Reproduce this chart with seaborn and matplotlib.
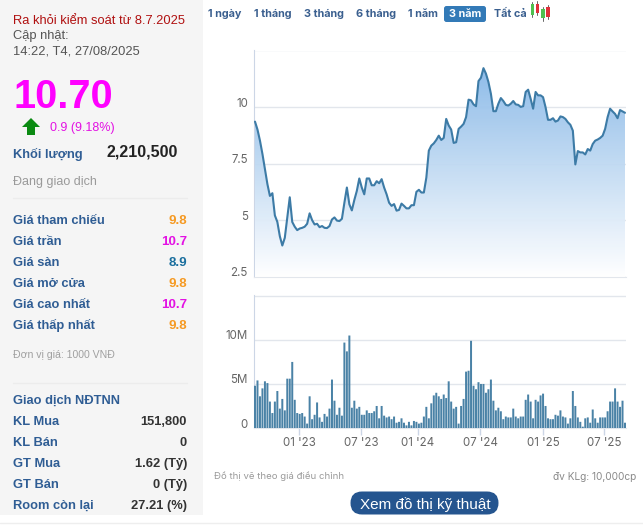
"""Stock quote panel: price area chart and weekly volume bars with the side info column."""

import matplotlib
matplotlib.use("Agg")
import matplotlib.pyplot as plt
import numpy as np
import pandas as pd
import seaborn as sns
from matplotlib.colors import LinearSegmentedColormap
from matplotlib.patches import FancyBboxPatch, Polygon, Rectangle
from matplotlib.transforms import ScaledTranslation

# price, thousand VND, one value per week
price = [
    9.36, 9.01, 8.52, 7.93, 7.26, 6.60, 6.08, 6.20, 5.22, 4.93, 4.30, 3.89, 4.23, 5.12, 6.02,
    4.93, 4.72, 4.57, 4.64, 4.67, 4.72, 4.85, 5.31, 5.01, 4.82, 4.85, 4.70, 4.75, 4.67, 4.66,
    4.75, 5.04, 5.13, 4.99, 4.97, 5.07, 5.78, 6.45, 5.71, 5.44, 5.90, 6.30, 6.85, 6.45, 6.15,
    6.85, 6.85, 6.55, 6.55, 6.73, 6.64, 6.82, 6.45, 6.15, 5.78, 5.64, 5.72, 5.43, 5.46, 5.74,
    5.64, 5.53, 5.53, 5.67, 5.67, 6.26, 6.35, 6.23, 6.23, 6.89, 8.08,
    8.30, 8.40, 8.55, 8.74, 8.55, 8.64, 9.48, 9.19, 9.01, 8.42, 8.45, 9.04, 9.14, 9.26, 9.56,
    10.33, 10.30, 10.12, 10.04, 11.15, 11.30, 11.72, 11.48, 11.11, 10.59, 9.82, 9.82, 10.15,
    10.40, 10.27, 10.10, 10.07, 10.15, 10.27, 10.12, 10.10, 10.01, 10.04, 10.67, 10.77, 10.37,
    9.93, 10.67, 10.52, 10.52, 10.44, 10.00, 9.44, 9.44, 9.51, 9.36, 9.41, 9.59, 9.56, 9.48,
    9.33, 9.22, 8.96, 7.47, 8.06, 8.00, 8.00, 7.91, 8.15, 8.08, 8.37, 8.52, 8.57, 8.64, 8.74,
    9.04, 9.56, 9.93, 9.81, 9.70, 9.51, 9.87, 9.81, 9.75,
]

# volume, millions of shares
volume = [
    4.8, 5.4, 3.6, 4.5, 5.3, 5.1, 3.0, 1.7, 3.0, 4.2, 2.2, 3.3, 2.0, 5.6, 5.6, 7.5, 3.2, 1.7,
    1.6, 1.7, 1.3, 0.5, 3.6, 1.0, 1.5, 2.9, 1.2, 0.7, 1.6, 1.3, 2.2, 5.5, 3.1, 1.5, 2.3, 1.4,
    9.7, 8.7, 10.5, 2.3, 3.1, 2.2, 2.4, 1.5, 1.5, 2.0, 1.7, 1.7, 1.9, 2.5, 1.1, 2.5, 1.4, 1.2,
    1.3, 1.0, 1.3, 0.6, 0.7, 1.1, 0.6, 0.3, 0.7, 0.3, 0.8, 0.7, 0.5, 0.6, 1.3, 2.4, 1.1,
    2.8, 3.7, 4.0, 3.6, 3.3, 3.8, 3.4, 5.3, 3.0, 2.2, 2.4, 0.5, 2.5, 3.3, 6.4, 6.5, 9.9, 4.8,
    4.4, 5.2, 5.0, 5.0, 4.0, 4.4, 5.5, 3.1, 2.0, 2.3, 1.9, 1.0, 1.3, 1.2, 1.2, 2.2, 1.3, 1.1,
    1.3, 1.3, 3.2, 3.8, 3.0, 1.1, 3.2, 3.0, 3.7, 3.9, 2.5, 1.1, 1.0, 1.0, 1.5, 1.4, 2.0, 1.3,
    1.2, 0.5, 1.1, 4.2, 2.5, 1.2, 0.7, 0.15, 1.1, 1.2, 0.6, 2.1, 1.1, 0.6, 1.2, 1.2, 1.2, 1.9,
    3.0, 3.0, 4.5, 3.0, 2.4, 3.1, 0.6,
]

date_ticks = [17.8, 42.8, 65.6, 90.6, 116, 140.6]
date_labels = ["01 '23", "07 '23", "01 '24", "07 '24", "01 '25", "07 '25"]
price_ticks = [2.5, 5, 7.5, 10, 12.5]
price_labels = ["2.5", "5", "7.5", "10", ""]
volume_ticks = [0, 5, 10, 15]
volume_labels = ["0", "5M", "10M", ""]

nav_items = [("1 ngày", 208), ("1 tháng", 254), ("3 tháng", 304), ("6 tháng", 356), ("1 năm", 408), ("Tất cả", 494)]

ORANGE = "#f59a23"
MAGENTA = "#e312e3"
TEAL = "#1b6f9e"
price_rows = [
    ("Giá tham chiếu", "9.8", ORANGE, 219),
    ("Giá trần", "10.7", MAGENTA, 240),
    ("Giá sàn", "8.9", TEAL, 261),
    ("Giá mở cửa", "9.8", ORANGE, 282),
    ("Giá cao nhất", "10.7", MAGENTA, 303),
    ("Giá thấp nhất", "9.8", ORANGE, 324),
]
foreign_rows = [
    ("KL Mua", "151,800", 420),
    ("KL Bán", "0", 441),
    ("GT Mua", "1.62 (Tỷ)", 462),
    ("GT Bán", "0 (Tỷ)", 483),
    ("Room còn lại", "27.21 (%)", 504),
]

W, H = 643, 528
LABEL_BLUE = "#2f5d94"
LINE_BLUE = "#3d7ba6"
BAR_BLUE = "#4a82a6"
GRID = "#e2e6ec"
ARIAL = "Liberation Sans"
INTER = "Inter"


def px_axes(fig, left, top, right, bottom):
    """Axes placed by pixel box, y measured from the top of the image."""
    return fig.add_axes([left / W, 1 - bottom / H, (right - left) / W, (bottom - top) / H])


def style_axes(ax, ticks, labels):
    sns.despine(ax=ax, top=True, right=True, bottom=False, left=False)
    ax.spines["left"].set_color("#ccd6e6")
    ax.spines["bottom"].set_color(GRID)
    ax.set_yticks(ticks)
    ax.set_yticklabels(labels, family=INTER, fontsize=8.3, color="#666666", va="bottom")
    ax.tick_params(axis="y", length=0, pad=4)
    # labels sit just above their grid line
    shift = ScaledTranslation(0, -2.5 / 100, fig.dpi_scale_trans)
    for lab in ax.get_yticklabels():
        lab.set_transform(lab.get_transform() + shift)
    ax.grid(axis="y", color=GRID, linewidth=1)
    ax.set_axisbelow(True)
    ax.set_xlabel("")
    ax.set_ylabel("")


sns.set_style("white")
plt.rcParams["font.family"] = [ARIAL, "DejaVu Sans"]

weeks = np.arange(len(price))
df = pd.DataFrame({"week": weeks, "price": price, "volume": volume})

fig = plt.figure(figsize=(W / 100, H / 100), dpi=100, facecolor="white")

# page layer in pixel coordinates
page = fig.add_axes([0, 0, 1, 1])
page.set_xlim(0, W)
page.set_ylim(H, 0)
page.axis("off")
page.add_patch(Rectangle((0, 0), 203, 515, facecolor="#f5f5f5", edgecolor="none"))
page.plot([0, W], [523, 523], color="#eeeeee", lw=1)
page.plot([13, 187], [198, 198], color="#ececec", lw=1)
page.plot([13, 187], [383, 383], color="#ececec", lw=1)


def txt(x, y, s, size, color, weight="normal", ha="left", family=ARIAL):
    # y is the middle of the capitals, baseline anchoring keeps accents from moving the text
    page.text(x, y + 0.5 * size, s, fontsize=size, color=color, fontweight=weight, ha=ha, va="baseline", family=family)


txt(13, 19.5, "Ra khỏi kiểm soát từ 8.7.2025", 9.3, "#b01010")
txt(13, 34, "Cập nhật:", 9.3, "#555555")
txt(13, 49.5, "14:22, T4, 27/08/2025", 9.3, "#555555")
txt(13, 94, "10.70", 28.5, "#ff00ff", "bold")
page.add_patch(Polygon([(31, 118), (40, 127), (35, 127), (35, 135), (27, 135), (27, 127), (22, 127)],
                       closed=True, facecolor="#0b8a12", edgecolor="none"))
txt(50, 127, "0.9 (9.18%)", 9, MAGENTA)
txt(13, 153.5, "Khối lượng", 9.3, LABEL_BLUE, "bold")
txt(178, 151, "2,210,500", 11.5, "#222222", "bold", ha="right")
txt(13, 180.5, "Đang giao dịch", 9, "#9a9a9a")

for label, value, color, y in price_rows:
    txt(13, y, label, 9.3, LABEL_BLUE, "bold")
    txt(187, y, value, 9.6, color, "bold", ha="right")

txt(13, 354, "Đơn vị giá: 1000 VNĐ", 7.6, "#a0a0a0")
txt(13, 399.5, "Giao dịch NĐTNN", 9.3, LABEL_BLUE, "bold")
for label, value, y in foreign_rows:
    txt(13, y + 0.5, label, 9.3, LABEL_BLUE, "bold")
    txt(187, y + 0.5, value, 9.3, "#333333", "bold", ha="right")

# range selector
for label, x in nav_items:
    txt(x, 13, label, 7.8, "#3a5f8f", "bold", family=INTER)
page.add_patch(FancyBboxPatch((444, 6), 42, 16, boxstyle="round,pad=0,rounding_size=2.5",
                              mutation_aspect=1, facecolor="#337ab7", edgecolor="none"))
txt(465, 13, "3 năm", 7.8, "white", "bold", ha="center", family=INTER)

# small candlestick icon
for x, y0, y1, wick0, wick1, color in [
    (530.5, 4, 15, 2, 17, "#4fc04f"), (535.5, 4, 13, 1, 15, "#e0303a"),
    (541, 9, 18, 7, 20.5, "#4fc04f"), (546, 7, 17, 5, 19, "#e0303a"),
]:
    page.plot([x + 1.9, x + 1.9], [wick0, wick1], color="#666666", lw=0.7, zorder=2)
    page.add_patch(Rectangle((x, y0), 3.8, y1 - y0, facecolor=color, edgecolor="none", zorder=3))

txt(214, 476, "Đồ thị vẽ theo giá điều chỉnh", 6.9, "#9a9a9a", family=INTER)
txt(636, 476, "đv KLg: 10,000cp", 7.3, "#8a8a8a", ha="right", family=INTER)
page.add_patch(FancyBboxPatch((350.5, 491.5), 148, 23, boxstyle="round,pad=0,rounding_size=11.5",
                              facecolor="#25558f", edgecolor="none", mutation_aspect=1))
txt(425, 503, "Xem đồ thị kỹ thuật", 11, "white", ha="center")

# x limits so week 0 sits at pixel 255 and the last week at pixel 625
step = 370 / (len(price) - 1)
xlim = (-(255 - 253.5) / step, len(price) - 1 + 1 / step)

# price chart
ax_price = px_axes(fig, 253.5, 50.5, 626, 277)
ax_price.patch.set_alpha(0)
sns.lineplot(data=df, x="week", y="price", color=LINE_BLUE, linewidth=1.5, ax=ax_price, zorder=4)
area = ax_price.fill_between(weeks, price, 2.5, color="none", lw=0)
cmap = LinearSegmentedColormap.from_list("area", ["#ffffff", "#7fb3e6"])
grad = ax_price.imshow(np.linspace(1, 0, 256).reshape(-1, 1), cmap=cmap, aspect="auto", alpha=0.95,
                       extent=(xlim[0], xlim[1], 2.5, 12.5), vmin=0, vmax=1, zorder=3)
grad.set_clip_path(area.get_paths()[0], transform=ax_price.transData)
ax_price.set_xlim(xlim)
ax_price.set_ylim(2.5, 12.5)
style_axes(ax_price, price_ticks, price_labels)
ax_price.set_xticks([])

# volume chart, categorical positions are the week numbers
ax_vol = px_axes(fig, 253.5, 295, 626, 428)
ax_vol.patch.set_alpha(0)
sns.barplot(data=df, x="week", y="volume", color=BAR_BLUE, saturation=1,
            width=0.8, edgecolor="none", linewidth=0, ax=ax_vol, zorder=3)
for bar in ax_vol.patches:
    bar.set_snap(False)
ax_vol.set_xlim(xlim)
ax_vol.set_ylim(0, 15.1)
style_axes(ax_vol, volume_ticks, volume_labels)
ax_vol.set_xticks(date_ticks)
ax_vol.set_xticklabels(date_labels, family=INTER, fontsize=8.3, color="#666666")
ax_vol.tick_params(axis="x", length=5, width=1, color="#ccd6e6", pad=1.5, bottom=True)

fig.savefig("out.png", dpi=100)
